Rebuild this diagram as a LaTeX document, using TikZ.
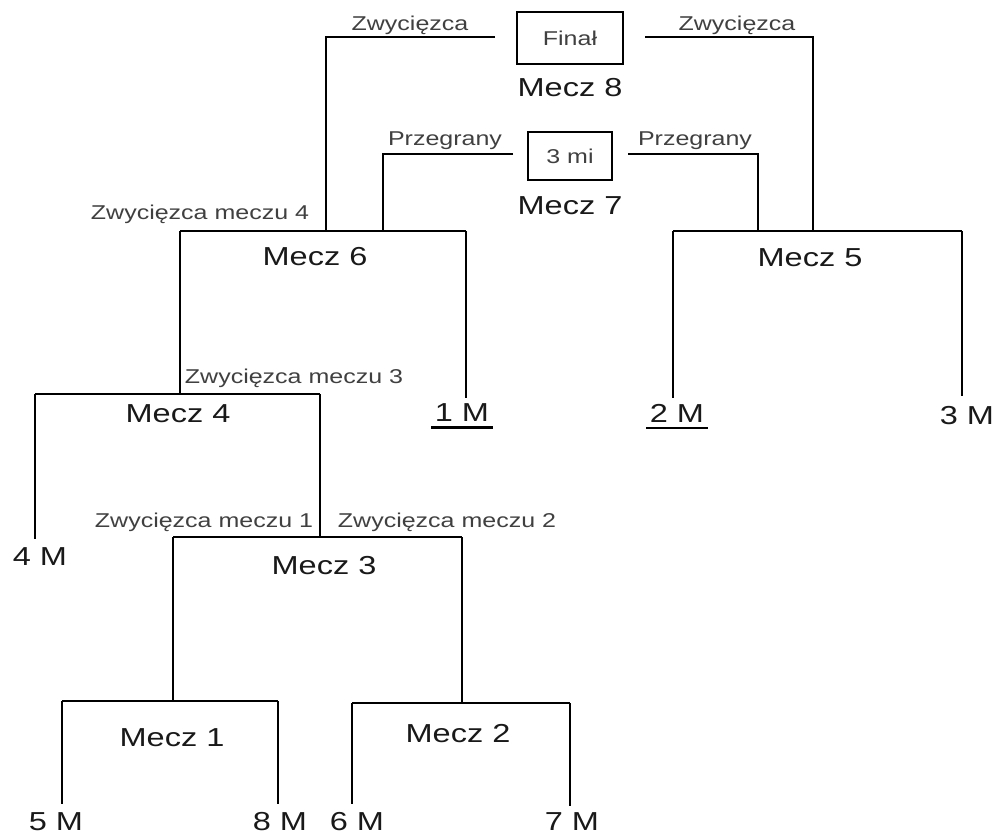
\documentclass[tikz,border=0pt]{standalone}
\usepackage{fontspec}
\setmainfont{Liberation Sans}

\begin{document}
\begin{tikzpicture}[x=0.5pt,y=-0.5pt,line width=0.8pt,
		mecz/.style={font=\fontsize{13}{15}\selectfont,xscale=1.25,inner sep=0pt,text=black!90},
		opis/.style={font=\fontsize{10}{12}\selectfont,xscale=1.25,inner sep=0pt,text=black!75},
		ramka/.style={opis,draw=black,line width=0.9pt}]
			\useasboundingbox (0,0) rectangle (997,836);
			\node[ramka,minimum width=42.4pt,minimum height=26pt] (fin) at (570,38) {Finał};
			\node[ramka,minimum width=33.6pt,minimum height=24pt] (trz) at (570,156) {3 mi};
			\node[mecz] (m8) at (570,88) {Mecz 8};
			\node[mecz] (m7) at (570,206) {Mecz 7};
			\node[mecz] (m6) at (315,257) {Mecz 6};
			\node[mecz] (m5) at (810,258) {Mecz 5};
			\node[mecz] (m4) at (178,414) {Mecz 4};
			\node[mecz] (m3) at (324,566) {Mecz 3};
			\node[mecz] (m1) at (172,738) {Mecz 1};
			\node[mecz] (m2) at (458,734) {Mecz 2};
			\node[mecz,inner xsep=1pt,inner ysep=2.5pt] (p1) at (462,413) {1 M};
			\node[mecz,inner xsep=1pt,inner ysep=2.5pt] (p2) at (677,413) {2 M};
			\node[mecz] (p3) at (967,416) {3 M};
			\node[mecz] (p4) at (40,557) {4 M};
			\node[mecz] (p5) at (56,822) {5 M};
			\node[mecz] (p8) at (280,822) {8 M};
			\node[mecz] (p6) at (357,822) {6 M};
			\node[mecz] (p7) at (572,822) {7 M};
			\node[opis] (zl) at (410,25) {Zwycięzca};
			\node[opis] (zp) at (737,25) {Zwycięzca};
			\node[opis] (pl) at (445,141) {Przegrany};
			\node[opis] (pp) at (695,141) {Przegrany};
			\node[opis] (z4) at (200,214) {Zwycięzca meczu 4};
			\node[opis] (z3) at (294,378) {Zwycięzca meczu 3};
			\node[opis] (z1) at (204,522) {Zwycięzca meczu 1};
			\node[opis] (z2) at (447,522) {Zwycięzca meczu 2};
			\coordinate (l6) at (180,231); \coordinate (r6) at (466,231);
			\coordinate (l5) at (673,231); \coordinate (r5) at (962,231);
			\coordinate (l4) at (35,394); \coordinate (r4) at (320,394); \coordinate (t4) at (180,394);
			\coordinate (l3) at (173,537); \coordinate (r3) at (462,537); \coordinate (t3) at (320,537);
			\coordinate (l1) at (62,701); \coordinate (r1) at (278,701); \coordinate (t1) at (173,701);
			\coordinate (l2) at (352,703); \coordinate (r2) at (570,703); \coordinate (t2) at (462,703);
			\coordinate (w6) at (326,231); \coordinate (w5) at (813,231);
			\coordinate (s6) at (383,231); \coordinate (s5) at (758,231);
			\coordinate (fl) at (495,37); \coordinate (fr) at (645,37);
			\coordinate (tl) at (513,154); \coordinate (tr) at (628,154);
			\draw (fl) -| (w6);
			\draw (fr) -| (w5);
			\draw (tl) -| (s6);
			\draw (tr) -| (s5);
			\draw (l6) -- (r6);
			\draw (l5) -- (r5);
			\draw (l4) -- (r4);
			\draw (l3) -- (r3);
			\draw (l1) -- (r1);
			\draw (l2) -- (r2);
			\draw (l6) -- (t4);
			\draw (r6) -- (r6 |- p1.north);
			\draw (l5) -- (l5 |- p2.north);
			\draw (r5) -- ([yshift=5pt]r5 |- p3.north);
			\draw (l4) -- ([yshift=4pt]l4 |- p4.north);
			\draw (r4) -- (t3);
			\draw (l3) -- (t1);
			\draw (r3) -- (t2);
			\draw (l1) -- ([yshift=4pt]l1 |- p5.north);
			\draw (r1) -- ([yshift=4pt]r1 |- p8.north);
			\draw (l2) -- ([yshift=4pt]l2 |- p6.north);
			\draw (r2) -- ([yshift=3pt]r2 |- p7.north);
			\draw[line width=1.3pt] (p1.south west) -- (p1.south east);
			\draw[line width=1.3pt] (p2.south west) -- (p2.south east);
\end{tikzpicture}
\end{document}
